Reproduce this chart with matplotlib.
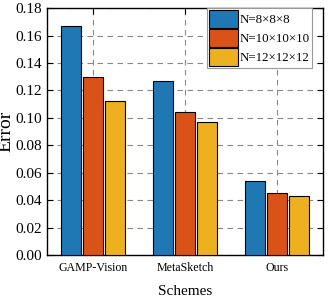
import matplotlib
matplotlib.use("Agg")
import matplotlib.pyplot as plt
import numpy as np

schemes = ["GAMP-Vision", "MetaSketch", "Ours"]
series_labels = ["N=8×8×8", "N=10×10×10", "N=12×12×12"]
n8 = [0.167, 0.127, 0.054]
n10 = [0.130, 0.104, 0.045]
n12 = [0.112, 0.097, 0.043]
colors = ["#1f77b4", "#D95319", "#EDB120"]
yticks = [0.00, 0.02, 0.04, 0.06, 0.08, 0.10, 0.12, 0.14, 0.16, 0.18]

plt.rcParams['font.family'] = ['Liberation Serif', 'DejaVu Serif']

fig = plt.figure(figsize=(3.29, 2.99), dpi=100)
ax = fig.add_axes([0.143, 0.147, 0.839, 0.826])

x = np.arange(1, len(schemes) + 1)
w = 0.22
off = 0.24
for i, (vals, lab) in enumerate(zip([n8, n10, n12], series_labels)):
    ax.bar(x + (i - 1) * off, vals, width=w, color=colors[i], edgecolor="black",
           linewidth=0.8, label=lab, zorder=3)

ax.set_xlim(0.5, 3.5)
ax.set_ylim(0, 0.18)
ax.set_yticks(yticks)
ax.set_yticklabels([f"{v:.2f}" for v in yticks], fontsize=11)
ax.set_xticks(x)
ax.set_xticklabels(schemes, fontsize=8.6)
ax.tick_params(direction="in", top=True, right=True, length=4, width=0.8)
ax.tick_params(axis="x", pad=5)
ax.grid(True, linestyle=(0, (5, 4)), color="#888888", linewidth=0.8, zorder=0)
ax.set_axisbelow(True)
for s in ax.spines.values():
    s.set_linewidth(1.0)
ax.set_xlabel("Schemes", fontsize=11, labelpad=8)
ax.set_ylabel("Error", fontsize=14, labelpad=1)

leg = ax.legend(loc="upper right", bbox_to_anchor=(0.96, 1.0), fontsize=9.3,
                handlelength=2.25, handleheight=1.75,
                handletextpad=0.15, borderpad=0.15, labelspacing=0.1,
                borderaxespad=0.0, fancybox=False, framealpha=1, edgecolor="#999999")
leg.get_frame().set_linewidth(0.8)

fig.savefig("out.png", dpi=100)
